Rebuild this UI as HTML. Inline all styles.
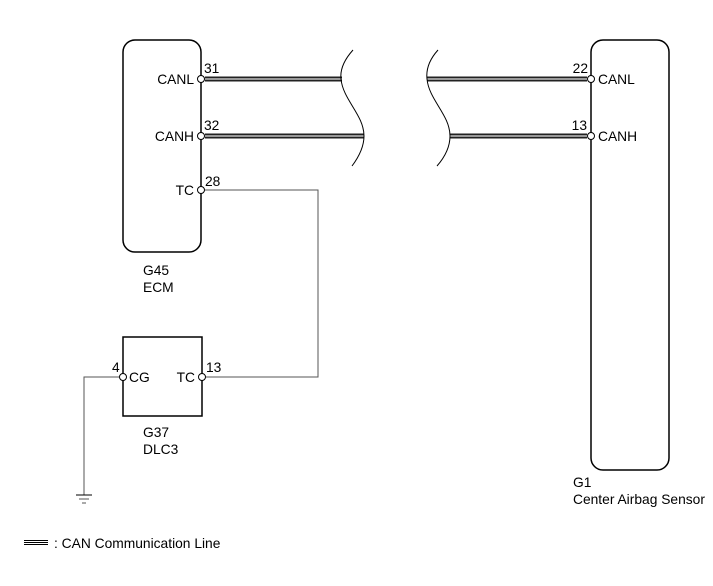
<!DOCTYPE html>
<html><head><style>
body{margin:0;background:#fff;width:713px;height:581px;overflow:hidden}
svg text{font-family:"Liberation Sans",Arial,sans-serif;font-size:13.8px;fill:#000}
</style></head><body>
<svg width="713" height="581" viewBox="0 0 713 581" xmlns="http://www.w3.org/2000/svg">
<g fill="none" stroke="#000" stroke-width="1.5">
<rect x="123" y="40" width="78" height="212" rx="12"/>
<rect x="591" y="40" width="78" height="430" rx="12"/>
<rect x="123" y="337" width="79" height="79"/>
</g>
<g stroke="#222" stroke-width="5">
<line x1="205" y1="79" x2="342" y2="79"/>
<line x1="205" y1="136" x2="364" y2="136"/>
<line x1="427" y1="79" x2="587" y2="79"/>
<line x1="450" y1="136" x2="587" y2="136"/>
</g>
<g stroke="#999" stroke-width="2">
<line x1="205" y1="79" x2="342" y2="79"/>
<line x1="205" y1="136" x2="364" y2="136"/>
<line x1="427" y1="79" x2="587" y2="79"/>
<line x1="450" y1="136" x2="587" y2="136"/>
</g>
<g fill="none" stroke="#000" stroke-width="1">
<path d="M353,50 C344,60 340,70 341,79 C343,100 364,115 364,136 C364,148 358,158 352,166"/>
<path d="M438,50 C429,60 426,70 427,79 C429,100 450,115 450,136 C450,148 444,158 437,166"/>
</g>
<g fill="none" stroke="#555" stroke-width="1">
<polyline points="205,190 318,190 318,377 206,377"/>
<polyline points="119,377 84,377 84,495"/>
<line x1="76" y1="495" x2="92" y2="495" stroke="#000"/>
<line x1="79" y1="499" x2="89" y2="499"/>
<line x1="82" y1="503" x2="86" y2="503"/>
</g>
<g fill="#fff" stroke="#000" stroke-width="1">
<circle cx="201" cy="79" r="3.5"/>
<circle cx="201" cy="136" r="3.5"/>
<circle cx="201" cy="190" r="3.5"/>
<circle cx="591" cy="79" r="3.5"/>
<circle cx="591" cy="136" r="3.5"/>
<circle cx="123" cy="377" r="3.5"/>
<circle cx="202" cy="377" r="3.5"/>
</g>
<text x="194" y="84" text-anchor="end">CANL</text>
<text x="204" y="73">31</text>
<text x="194" y="141" text-anchor="end">CANH</text>
<text x="204" y="130">32</text>
<text x="194" y="195" text-anchor="end">TC</text>
<text x="205" y="186">28</text>
<text x="588" y="73" text-anchor="end">22</text>
<text x="598" y="84">CANL</text>
<text x="587" y="130" text-anchor="end">13</text>
<text x="598" y="141">CANH</text>
<text x="112" y="372">4</text>
<text x="129" y="382">CG</text>
<text x="195" y="382" text-anchor="end">TC</text>
<text x="206" y="372">13</text>
<text x="143" y="275">G45</text>
<text x="143" y="292">ECM</text>
<text x="143" y="437">G37</text>
<text x="143" y="454">DLC3</text>
<text x="573" y="487">G1</text>
<text x="573" y="504">Center Airbag Sensor</text>
<rect x="24" y="540" width="24" height="1" fill="#000"/>
<rect x="24" y="542" width="24" height="1" fill="#000"/>
<rect x="24" y="544" width="24" height="1" fill="#000"/>
<text x="54" y="548">: CAN Communication Line</text>
</svg>
</body></html>
